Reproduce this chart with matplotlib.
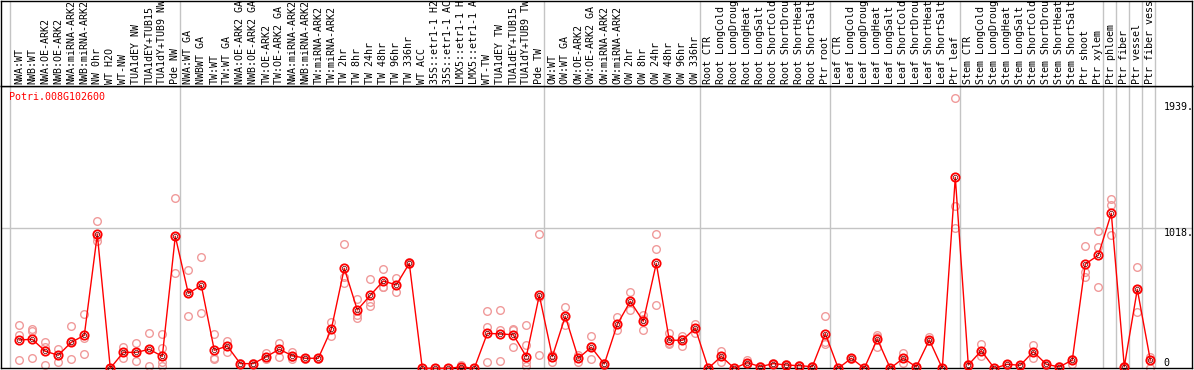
import numpy as np
import matplotlib
matplotlib.use('Agg')
import matplotlib.pyplot as plt

# * Sample names (as shown, truncated by the header box)
labels = [
    'NWA:WT', 'NWB:WT', 'NWA:OE-ARK2', 'NWB:OE-ARK2', 'NWA:miRNA-ARK2',
    'NWB:miRNA-ARK2', 'NW 0hr', 'WT H2O', 'WT-NW', 'TUA1dEY NW',
    'TUA1dEY+TUB15', 'TUA1dY+TUB9 NW', 'Pde NW',
    'NWA:WT GA', 'NWBWT GA', 'TW:WT', 'TW:WT GA', 'NWA:OE-ARK2 GA',
    'NWB:OE-ARK2 GA', 'TW:OE-ARK2', 'TW:OE-ARK2 GA', 'NWA:miRNA-ARK2',
    'NWB:miRNA-ARK2', 'TW:miRNA-ARK2', 'TW:miRNA-ARK2', 'TW 2hr', 'TW 8hr',
    'TW 24hr', 'TW 48hr', 'TW 96hr', 'TW 336hr', 'WT ACC', '35S::etr1-1 H2',
    '35S::etr1-1 AC', 'LMX5::etr1-1 H', 'LMX5::etr1-1 A', 'WT-TW',
    'TUA1dEY TW', 'TUA1dEY+TUB15', 'TUA1dY+TUB9 TW', 'Pde TW',
    'OW:WT', 'OW:WT GA', 'OW:OE-ARK2', 'OW:OE-ARK2 GA', 'OW:miRNA-ARK2',
    'OW:miRNA-ARK2', 'OW 2hr', 'OW 8hr', 'OW 24hr', 'OW 48hr', 'OW 96hr',
    'OW 336hr',
    'Root CTR', 'Root LongCold', 'Root LongDroug', 'Root LongHeat',
    'Root LongSalt', 'Root ShortCold', 'Root ShortDrou', 'Root ShortHeat',
    'Root ShortSalt', 'Ptr root',
    'Leaf CTR', 'Leaf LongCold', 'Leaf LongDroug', 'Leaf LongHeat',
    'Leaf LongSalt', 'Leaf ShortCold', 'Leaf ShortDrou', 'Leaf ShortHeat',
    'Leaf ShortSalt', 'Ptr leaf',
    'Stem CTR', 'Stem LongCold', 'Stem LongDroug', 'Stem LongHeat',
    'Stem LongSalt', 'Stem ShortCold', 'Stem ShortDrou', 'Stem ShortHeat',
    'Stem ShortSalt', 'Ptr shoot', 'Ptr xylem',
    'Ptr phloem', 'Ptr fiber', 'Ptr vessel', 'Ptr fiber vess',
]

# * Mean expression per sample
means = [
    206, 211, 124, 95, 189, 240, 974, 0, 116, 116, 138, 87, 960,
    545, 603, 131, 162, 34, 34, 85, 138, 92, 73, 73, 284, 727, 424, 531,
    635, 606, 763, 0, 0, 0, 10, 0, 254, 250, 244, 85, 531,
    85, 378, 73, 153, 31, 320, 487, 342, 763, 204, 204, 291,
    0, 87, 0, 41, 12, 34, 24, 19, 12, 252,
    0, 73, 0, 213, 0, 73, 10, 206, 0, 1389,
    24, 128, 0, 29, 22, 121, 29, 10, 60, 758, 822,
    1127, 12, 574, 60,
]

# * Replicate values per sample
reps = [
    [313, 242, 58], [286, 73, 270], [189, 157, 22], [140, 48, 100],
    [305, 65, 197], [393, 220, 102], [1069, 926, 957], [0, 0, 0],
    [157, 77, 116], [182, 51, 116], [254, 19, 140], [247, 145, 48, 19],
    [1236, 691, 960],
    [713, 378, 545], [807, 400, 603], [249, 73, 65], [201, 121, 162],
    [34, 30, 38], [34, 30, 38], [109, 65, 85], [186, 85, 138],
    [121, 85, 70], [73, 70, 76], [73, 70, 76], [334, 233, 284],
    [902, 666, 618], [504, 388, 368], [649, 482, 455], [722, 589, 594],
    [657, 555, 606], [763, 770, 756], [0, 0, 0], [0, 0, 0], [0, 0, 0],
    [27, 0, 5], [0, 0, 0], [417, 300, 44], [424, 278, 51],
    [288, 153, 280], [315, 167, 48, 17], [974, 97, 522],
    [48, 100, 85], [446, 313, 378], [97, 48, 73], [233, 65, 160],
    [31, 25, 37], [373, 276, 320], [553, 422, 487], [388, 276, 360],
    [974, 865, 458], [254, 174, 185], [237, 164, 210], [324, 254, 295],
    [0, 0, 0], [124, 48, 87], [0, 0, 0], [60, 30, 35], [12, 8, 15],
    [34, 30, 38], [24, 20, 28], [19, 15, 22], [12, 8, 15], [378, 194, 180],
    [0, 0, 0], [73, 70, 76], [0, 0, 0], [242, 157, 230], [0, 0, 0],
    [109, 41, 73], [10, 5, 15], [225, 200, 195], [0, 0, 0],
    [1963, 1180, 1018],
    [24, 20, 28], [174, 89, 128], [0, 0, 0], [29, 25, 33], [22, 18, 26],
    [167, 77, 121], [29, 25, 33], [10, 5, 15], [31, 60, 65],
    [887, 702, 666], [998, 880, 589],
    [1231, 1185, 967], [12, 0, 20], [734, 409, 574], [85, 0, 60],
]

# * Group separators (after these sample indices), y tick values
sep_after = [-1, 12, 40, 52, 62, 72, 83, 84, 85, 86, 87]
ytick_vals = [1939, 1018, 0]
ytick_text = ['1939.', '1018.', '0']
gene = 'Potri.008G102600'

W, H = 1194, 370
fig = plt.figure(figsize=(W / 100, H / 100), dpi=100)

# pixel layout of the two boxes
left_px, right_px = 1, 1192
top_px, mid_px, bot_px = 0.5, 86, 368.3
x0, pitch = 19.3, 13.0
xlim = ((left_px - x0) / pitch, (right_px - x0) / pitch)

ax = fig.add_axes([left_px / W, (H - bot_px) / H,
                   (right_px - left_px) / W, (bot_px - mid_px) / H])
ax_lab = fig.add_axes([left_px / W, (H - mid_px) / H,
                       (right_px - left_px) / W, (mid_px - top_px) / H])

mono = 'DejaVu Sans Mono'
fs = 7.2
grey = '#c4c4c4'

for a in (ax, ax_lab):
    a.set_xlim(*xlim)
    a.set_xticks([])
    a.set_yticks([])
    for s in a.spines.values():
        s.set_linewidth(1.0)
        s.set_color('black')
    for s in sep_after:
        pos = s + 0.38 if s >= 0 else -0.72
        a.axvline(pos, color=grey, lw=1.0, zorder=1)

# * header with rotated sample names
ax_lab.set_ylim(0, 1)
for i, name in enumerate(labels):
    ax_lab.text(i, 0.02, name, rotation=90, ha='center', va='bottom',
                fontsize=fs, family=mono, clip_on=True)

# * main plot
ymax = (bot_px - mid_px) * 1018 / 140.0
ax.set_ylim(0, ymax)
ax.axhline(1018, color=grey, lw=1.0, zorder=1)

x = np.arange(len(means))
for i, r in enumerate(reps):
    ax.plot([i] * len(r), r, 'o', mfc='none', mec='#f09a9a', ms=5.5, mew=1.0,
            clip_on=False, zorder=2)
ax.plot(x, means, color='red', lw=1.0, zorder=3, clip_on=False)
ax.plot(x, means, 'o', mfc='none', mec='red', ms=6.0, mew=1.3,
        clip_on=False, zorder=4)
ax.plot(x, means, 'o', mfc='none', mec='#600000', ms=3.2, mew=0.5,
        clip_on=False, zorder=5)

ax.text(0.007, 0.961, gene, transform=ax.transAxes, color='red',
        fontsize=fs, family=mono, ha='left', va='center')

for v, t in zip(ytick_vals, ytick_text):
    ax.text(88.0, v, t, ha='left', va='top' if v > 0 else 'bottom',
            fontsize=fs, family=mono, clip_on=True)

fig.savefig('out.png', dpi=100)
